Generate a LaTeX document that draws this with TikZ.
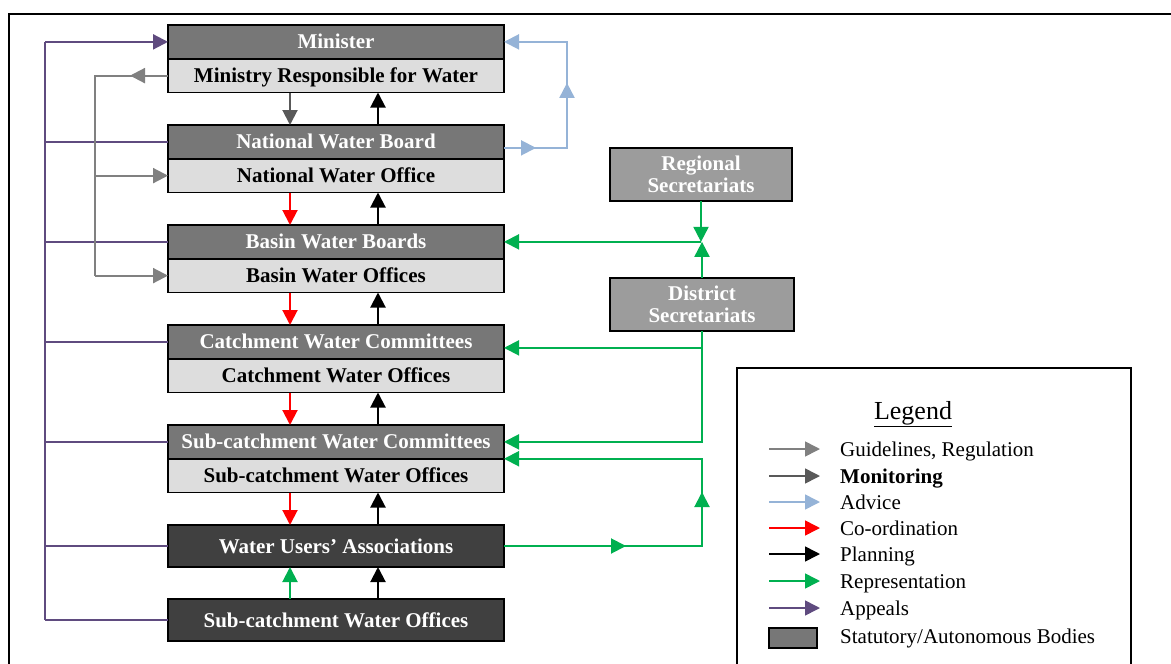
\documentclass[tikz,border=0pt]{standalone}
\usepackage{fontspec}
\setmainfont{Liberation Serif}
\usetikzlibrary{arrows.meta}

\definecolor{boardgray}{HTML}{777777}
\definecolor{officegray}{HTML}{DDDDDD}
\definecolor{darkbody}{HTML}{404040}
\definecolor{secgray}{HTML}{9C9C9C}
\definecolor{guidecol}{HTML}{808080}
\definecolor{monitorcol}{HTML}{595959}
\definecolor{advicecol}{HTML}{95B3D7}
\definecolor{repcol}{HTML}{00B050}
\definecolor{appealcol}{HTML}{5F4B7F}

\tikzset{
  box/.style={draw=black, line width=1.6pt, minimum width=336pt, minimum height=33.75pt,
    inner sep=0pt, outer sep=0pt, anchor=north west,
    font=\fontsize{21}{23}\selectfont\bfseries},
  oneline/.style={text height=14.5pt, text depth=0.5pt},
  board/.style={box, oneline, fill=boardgray, text=white},
  office/.style={box, oneline, fill=officegray, text=black},
  body/.style={box, oneline, fill=darkbody, text=white, minimum height=42pt},
  secr/.style={box, fill=secgray, text=white, minimum width=182pt, minimum height=53pt,
    align=center, font=\fontsize{21}{22}\selectfont\bfseries},
  tipped/.style={-{Triangle[length=15pt,width=15pt]}},
  flow/.style={line width=2pt, tipped},
  guide/.style={draw=guidecol, line width=2.2pt},
  appeal/.style={draw=appealcol, line width=2.2pt},
  advice/.style={draw=advicecol, line width=2pt},
  rep/.style={draw=repcol, line width=2pt},
  keyline/.style={line width=1.6pt, tipped},
  keytext/.style={anchor=west, inner sep=0pt, oneline, font=\fontsize{21}{23}\selectfont},
}

\begin{document}
\begin{tikzpicture}[x=1pt,y=-1pt]
\useasboundingbox (0,0) rectangle (1171,664);

% outer frame
\draw[line width=2.5pt] (9,664) -- (9,14) -- (1171,14);

% main column of bodies
\node[board]  (min) at (168,25)     {Minister};
\node[office] (mrw) at (168,58.75)  {Ministry Responsible for Water};
\node[board]  (nwb) at (168,125)    {National Water Board};
\node[office] (nwo) at (168,158.75) {National Water Office};
\node[board]  (bwb) at (168,225)    {Basin Water Boards};
\node[office] (bwo) at (168,258.75) {Basin Water Offices};
\node[board]  (cwc) at (168,325)    {Catchment Water Committees};
\node[office] (cwo) at (168,358.75) {Catchment Water Offices};
\node[board]  (scc) at (168,425)    {Sub-catchment Water Committees};
\node[office] (sco) at (168,458.75) {Sub-catchment Water Offices};
\node[body]   (wua) at (168,525)    {Water Users’ Associations};
\node[body]   (swo) at (168,599)    {Sub-catchment Water Offices};

% secretariats
\node[secr] (reg) at (610,148) {Regional\\Secretariats};
\node[secr, minimum width=184pt] (dis) at (610,278) {District\\Secretariats};

% monitoring, co-ordination and planning between the levels
\draw[flow, monitorcol] ([xshift=-46pt]mrw.south) -- ([xshift=-46pt]nwb.north);
\foreach \u/\l in {nwo/bwb, bwo/cwc, cwo/scc, sco/wua}
  \draw[flow, red] ([xshift=-46pt]\u.south) -- ([xshift=-46pt]\l.north);
\foreach \u/\l in {mrw/nwb, nwo/bwb, bwo/cwc, cwo/scc, sco/wua, wua/swo}
  \draw[flow, black] ([xshift=42pt]\l.north) -- ([xshift=42pt]\u.south);
\draw[flow, repcol] ([xshift=-46pt]swo.north) -- ([xshift=-46pt]wua.south);

% appeals
\coordinate (apx) at (45,0);
\draw[appeal] (min.west -| apx) -- (swo.west -| apx);
\draw[appeal, tipped] (min.west -| apx) -- (min.west);
\foreach \n in {nwb, bwb, cwc, scc, wua, swo}
  \draw[appeal] (\n.west -| apx) -- (\n.west);

% guidelines and regulation
\coordinate (gx) at (95,0);
\draw[guide] (mrw.west) -- (mrw.west -| gx) -- (bwo.west -| gx);
\draw[guide, tipped] (mrw.west) -- ([xshift=-38pt]mrw.west);
\draw[guide, tipped] (nwo.west -| gx) -- (nwo.west);
\draw[guide, tipped] (bwo.west -| gx) -- (bwo.west);

% advice
\coordinate (adx) at (567,0);
\coordinate (nwbout) at ([yshift=-6pt]nwb.east);
\coordinate (adlow) at (nwbout -| adx);
\draw[advice, tipped] (nwbout) -- (adlow) -- (min.east -| adx) -- (min.east);
\draw[advice, tipped] (nwbout) -- ([xshift=32pt]nwbout);
\draw[advice, tipped] (adlow) -- ([yshift=65pt]adlow);

% representation
\coordinate (jn) at (reg.south |- bwb.east);
\draw[rep, tipped] (reg.south) -- (jn);
\draw[rep, tipped] (dis.north) -- (dis.north |- bwb.east);
\draw[rep, tipped] (jn) -- (bwb.east);
\coordinate (cwcin) at ([yshift=-6pt]cwc.east);
\draw[rep, tipped] (dis.south) -- (dis.south |- scc.east) -- (scc.east);
\draw[rep, tipped] (dis.south |- cwcin) -- (cwcin);
\coordinate (wx) at (702,0);
\coordinate (wcorner) at (wua.east -| wx);
\draw[rep, tipped] (wua.east) -- (wcorner) -- (scc.south east -| wx) -- (scc.south east);
\draw[rep, tipped] (wua.east) -- ([xshift=122pt]wua.east);
\draw[rep, tipped] (wcorner) -- ([yshift=54pt]wcorner);

% legend
\draw[line width=2pt] (737,664) -- (737,368) -- (1131,368) -- (1131,664);
\node[font=\fontsize{26}{28}\selectfont, inner sep=0pt] (lgt) at (913,414) {\underline{Legend}};
\foreach \y/\c/\t in {449/guidecol/{Guidelines, Regulation},
                      476/monitorcol/{\textbf{Monitoring}},
                      502/advicecol/{Advice},
                      528/red/{Co-ordination},
                      554/black/{Planning},
                      581/repcol/{Representation},
                      608/appealcol/{Appeals}}{
  \draw[keyline, draw=\c, fill=\c] (769,\y) -- (820,\y);
  \node[keytext] at (840,\y) {\t};
}
\node[draw, line width=1.6pt, fill=boardgray, minimum width=48pt, minimum height=20pt,
      inner sep=0pt] (keybox) at (793,638) {};
\node[keytext] (keyboxtext) at (840,636) {Statutory/Autonomous Bodies};
\end{tikzpicture}
\end{document}
